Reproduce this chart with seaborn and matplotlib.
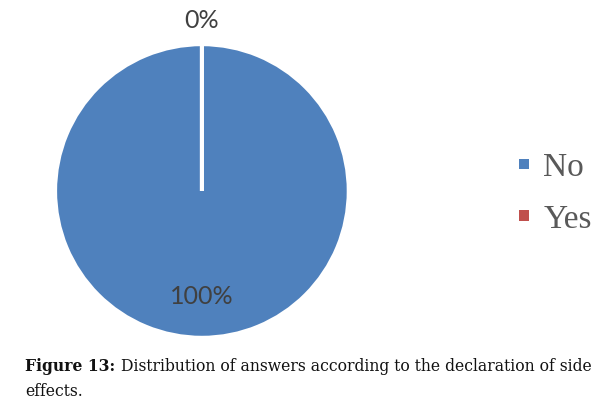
import matplotlib
matplotlib.use("Agg")
import matplotlib.pyplot as plt
from matplotlib.patches import Patch
import seaborn as sns

labels = ["No", "Yes"]
values = [100, 0]
colors = ["#4F81BD", "#C0504D"]

sns.set_style("white")
palette = sns.color_palette(colors)

fig = plt.figure(figsize=(6.02, 4.08), dpi=100)
ax = fig.add_axes([0.0914, 0.1716, 0.488, 0.7206])

wedges, texts, autotexts = ax.pie(
    values, colors=palette, startangle=90, counterclock=False,
    autopct="%1.0f%%", pctdistance=0.72,
    wedgeprops=dict(edgecolor="white", linewidth=3),
    textprops=dict(fontsize=18, color="#404040", family="Lato"),
)
# the 0% label sits above the pie, outside it
autotexts[1].set_position((0, 1.16))
autotexts[1].set_clip_on(False)
ax.set_xlim(-1, 1)
ax.set_ylim(-1, 1)
ax.set_aspect("equal")

handles = [Patch(facecolor=c, edgecolor="none") for c in palette]
fig.legend(handles, labels, loc="center left", bbox_to_anchor=(0.862, 0.525),
           frameon=False, prop=dict(family="Liberation Serif", size=24),
           labelcolor="#595959", handlelength=0.31, handleheight=0.1,
           handletextpad=0.42, labelspacing=0.62, borderpad=0,
           borderaxespad=0)

cap = dict(fontsize=11.25, family="DejaVu Serif", color="#111111")
t = fig.text(0.042, 0.09, "Figure 13:", fontweight="bold", **cap)
ax.annotate("Distribution of answers according to the declaration of side",
            xy=(1, 0), xycoords=t, xytext=(4, 0), textcoords="offset points",
            va="bottom", **cap)
fig.text(0.042, 0.03, "effects.", **cap)

fig.savefig("out.png", dpi=100)
